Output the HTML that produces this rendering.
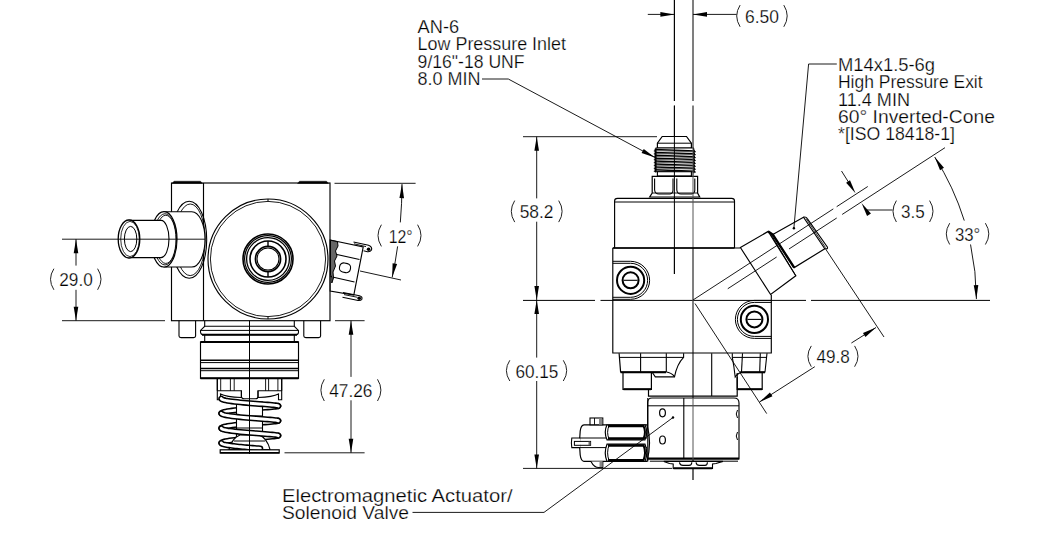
<!DOCTYPE html>
<html><head><meta charset="utf-8"><style>
html,body{margin:0;padding:0;background:#fff;width:1062px;height:540px;overflow:hidden}
svg{display:block}
text{font-family:"Liberation Sans",sans-serif}
</style></head><body>
<svg width="1062" height="540" viewBox="0 0 1062 540" stroke-linecap="butt">
<rect x="171.5" y="183" width="158.5" height="137.7" rx="0" stroke="#000" stroke-width="1.15" fill="none"/>
<line x1="203.5" y1="183" x2="203.5" y2="320.7" stroke="#000" stroke-width="1.15" />
<path d="M172,183.5 L174,181.2 L200.5,181.2 L202.5,183.5 Z" stroke="#000" stroke-width="0.4" fill="#000" />
<path d="M297.5,183.5 L299.5,181.2 L326.5,181.2 L328.5,183.5 Z" stroke="#000" stroke-width="0.4" fill="#000" />
<circle cx="268" cy="259" r="60" stroke="#000" stroke-width="1.15" fill="none"/>
<circle cx="268" cy="259" r="57.6" stroke="#000" stroke-width="0.9" fill="none"/>
<circle cx="268" cy="259" r="25" stroke="#000" stroke-width="1.6" fill="none"/>
<circle cx="268" cy="259" r="23.4" stroke="#000" stroke-width="1.2" fill="none"/>
<circle cx="268" cy="259" r="21.4" stroke="#000" stroke-width="1.3" fill="none"/>
<circle cx="268" cy="259" r="18" stroke="#000" stroke-width="1.6" fill="none"/>
<circle cx="268" cy="259" r="12.6" stroke="#000" stroke-width="1.6" fill="none"/>
<circle cx="268" cy="259" r="11" stroke="#000" stroke-width="1.1" fill="none"/>
<line x1="268" y1="241" x2="268" y2="246.4" stroke="#000" stroke-width="1.4" />
<line x1="268" y1="271.6" x2="268" y2="277" stroke="#000" stroke-width="1.4" />
<line x1="268" y1="199" x2="268" y2="201.4" stroke="#000" stroke-width="1.0" />
<line x1="268" y1="316.6" x2="268" y2="319" stroke="#000" stroke-width="1.0" />
<ellipse cx="189.2" cy="239.8" rx="17.5" ry="38.5" stroke="#000" stroke-width="1.1" fill="none"/>
<ellipse cx="190.2" cy="239.8" rx="15" ry="35.8" stroke="#000" stroke-width="0.9" fill="none"/>
<path d="M164,211.7 L191.7,211.7 A13.3,27.65 0 0 1 191.7,267 L164,267 Z" stroke="#000" stroke-width="1.1" fill="#fff" />
<ellipse cx="164" cy="239.35" rx="13" ry="27.65" stroke="#000" stroke-width="1.2" fill="#fff"/>
<ellipse cx="165" cy="239.35" rx="11.4" ry="25.6" stroke="#000" stroke-width="0.9" fill="none"/>
<ellipse cx="165.8" cy="239.35" rx="10.2" ry="24.1" stroke="#000" stroke-width="0.9" fill="none"/>
<path d="M129,220.4 L161,220.4 A8,18.6 0 0 1 161,257.6 L129,257.6 Z" stroke="#000" stroke-width="1.1" fill="#fff" />
<ellipse cx="129" cy="239" rx="10.8" ry="19" stroke="#000" stroke-width="1.3" fill="#fff"/>
<ellipse cx="130.6" cy="239" rx="6.2" ry="12.6" stroke="#000" stroke-width="1.0" fill="none"/>
<ellipse cx="130" cy="239" rx="9.3" ry="17.6" stroke="#000" stroke-width="0.8" fill="none"/>
<line x1="62" y1="239.2" x2="205" y2="239.2" stroke="#000" stroke-width="0.9" />
<path d="M330.2,240 L363.2,247 L353.8,295 L330.2,291 Z" stroke="#000" stroke-width="1.15" fill="#fff" />
<path d="M353.5,242 L368.5,245.3 Q372.5,246.8 371.5,250 Q370,252.3 366.5,251.5 L363.5,250.8" stroke="#000" stroke-width="1.1" fill="none" />
<line x1="354" y1="243.8" x2="366" y2="246.6" stroke="#000" stroke-width="0.9" />
<circle cx="368.6" cy="249.2" r="1.8" fill="#000"/>
<path d="M343,292.5 L359.5,295.8 Q362.8,296.8 361.8,299.3 Q360.5,301 357,300.3 L342.5,297.3" stroke="#000" stroke-width="1.1" fill="none" />
<line x1="344" y1="294.6" x2="357.5" y2="297.3" stroke="#000" stroke-width="0.9" />
<circle cx="359.2" cy="298.2" r="1.8" fill="#000"/>
<line x1="330.2" y1="253" x2="359.5" y2="259.5" stroke="#000" stroke-width="1.1" />
<line x1="330.2" y1="276.5" x2="354.5" y2="282" stroke="#000" stroke-width="1.1" />
<rect x="-5.5" y="-4.6" width="11" height="9.2" rx="4" transform="translate(345,267.8) rotate(12)" stroke="#000" stroke-width="1.1" fill="none"/>
<path d="M330.5,240.2 L337.5,241.8 L338,246 L335.5,251 L337,256 L334.5,261 L335.5,266 L333,272 L333.5,278 L331.8,283 L331.8,277 L330.5,275 Z" stroke="#000" stroke-width="1.0" fill="#666" />
<path d="M179,320.7 L179,336 Q179,337.6 181,337.6 L193.6,337.6 Q195.6,337.6 195.6,336 L195.6,320.7" stroke="#000" stroke-width="1.1" fill="none" />
<path d="M303.8,320.7 L303.8,336 Q303.8,337.6 305.8,337.6 L318.6,337.6 Q320.6,337.6 320.6,336 L320.6,320.7" stroke="#000" stroke-width="1.1" fill="none" />
<line x1="204.7" y1="320.7" x2="204.7" y2="326.3" stroke="#000" stroke-width="1.1" />
<line x1="294.3" y1="320.7" x2="294.3" y2="326.3" stroke="#000" stroke-width="1.1" />
<path d="M204.7,326.3 L294.3,326.3 L298.4,330.4 Q299,334.7 296,334.7 L203,334.7 Q200.3,334.7 200.5,330.4 Z" stroke="#000" stroke-width="1.1" fill="none" />
<line x1="200.8" y1="330.4" x2="298.4" y2="330.4" stroke="#000" stroke-width="1.0" />
<line x1="202" y1="334.7" x2="297" y2="334.7" stroke="#000" stroke-width="2.0" />
<line x1="204.7" y1="334.7" x2="204.7" y2="342" stroke="#000" stroke-width="1.1" />
<line x1="294.3" y1="334.7" x2="294.3" y2="342" stroke="#000" stroke-width="1.1" />
<rect x="200.5" y="342" width="98" height="36.3" rx="0" stroke="#000" stroke-width="1.15" fill="none"/>
<line x1="200.5" y1="342" x2="298.5" y2="342" stroke="#000" stroke-width="2.0" />
<line x1="200.5" y1="360.2" x2="298.5" y2="360.2" stroke="#000" stroke-width="1.6" />
<line x1="200.5" y1="362.6" x2="298.5" y2="362.6" stroke="#000" stroke-width="1.0" />
<line x1="200.5" y1="368.5" x2="298.5" y2="368.5" stroke="#000" stroke-width="1.6" />
<line x1="200.5" y1="370.7" x2="298.5" y2="370.7" stroke="#000" stroke-width="1.0" />
<line x1="200.5" y1="378.3" x2="298.5" y2="378.3" stroke="#000" stroke-width="2.0" />
<line x1="249.5" y1="320.7" x2="249.5" y2="454" stroke="#000" stroke-width="1.0" />
<path d="M278.3,406 L278.12,406.16 L277.59,406.33 L276.7,406.5 L275.48,406.67 L273.93,406.84 L272.08,407.02 L269.95,407.21 L267.57,407.41 L264.96,407.62 L262.17,407.83 L259.21,408.06 L256.14,408.29 L252.99,408.54 L249.8,408.8 L246.61,409.07 L243.46,409.35 L240.39,409.64 L237.43,409.95 L234.64,410.26 L232.03,410.58 L229.65,410.91 L227.52,411.25 L225.67,411.6 L224.12,411.95 L222.9,412.31 L222.01,412.67 L221.48,413.03 L221.3,413.4" stroke="#000" stroke-width="6.0" fill="none" stroke-linecap="round" stroke-linejoin="round"/>
<path d="M278.3,406 L278.12,406.16 L277.59,406.33 L276.7,406.5 L275.48,406.67 L273.93,406.84 L272.08,407.02 L269.95,407.21 L267.57,407.41 L264.96,407.62 L262.17,407.83 L259.21,408.06 L256.14,408.29 L252.99,408.54 L249.8,408.8 L246.61,409.07 L243.46,409.35 L240.39,409.64 L237.43,409.95 L234.64,410.26 L232.03,410.58 L229.65,410.91 L227.52,411.25 L225.67,411.6 L224.12,411.95 L222.9,412.31 L222.01,412.67 L221.48,413.03 L221.3,413.4" stroke="#fff" stroke-width="2.9" fill="none" stroke-linecap="round" stroke-linejoin="round"/>
<path d="M278.3,420.8 L278.12,420.96 L277.59,421.13 L276.7,421.3 L275.48,421.47 L273.93,421.64 L272.08,421.82 L269.95,422.01 L267.57,422.21 L264.96,422.42 L262.17,422.63 L259.21,422.86 L256.14,423.09 L252.99,423.34 L249.8,423.6 L246.61,423.87 L243.46,424.15 L240.39,424.44 L237.43,424.75 L234.64,425.06 L232.03,425.38 L229.65,425.71 L227.52,426.05 L225.67,426.4 L224.12,426.75 L222.9,427.11 L222.01,427.47 L221.48,427.83 L221.3,428.2" stroke="#000" stroke-width="6.0" fill="none" stroke-linecap="round" stroke-linejoin="round"/>
<path d="M278.3,420.8 L278.12,420.96 L277.59,421.13 L276.7,421.3 L275.48,421.47 L273.93,421.64 L272.08,421.82 L269.95,422.01 L267.57,422.21 L264.96,422.42 L262.17,422.63 L259.21,422.86 L256.14,423.09 L252.99,423.34 L249.8,423.6 L246.61,423.87 L243.46,424.15 L240.39,424.44 L237.43,424.75 L234.64,425.06 L232.03,425.38 L229.65,425.71 L227.52,426.05 L225.67,426.4 L224.12,426.75 L222.9,427.11 L222.01,427.47 L221.48,427.83 L221.3,428.2" stroke="#fff" stroke-width="2.9" fill="none" stroke-linecap="round" stroke-linejoin="round"/>
<path d="M278.3,435.6 L278.12,435.76 L277.59,435.93 L276.7,436.1 L275.48,436.27 L273.93,436.44 L272.08,436.62 L269.95,436.81 L267.57,437.01 L264.96,437.22 L262.17,437.43 L259.21,437.66 L256.14,437.89 L252.99,438.14 L249.8,438.4 L246.61,438.67 L243.46,438.95 L240.39,439.24 L237.43,439.55 L234.64,439.86 L232.03,440.18 L229.65,440.51 L227.52,440.85 L225.67,441.2 L224.12,441.55 L222.9,441.91 L222.01,442.27 L221.48,442.63 L221.3,443" stroke="#000" stroke-width="6.0" fill="none" stroke-linecap="round" stroke-linejoin="round"/>
<path d="M278.3,435.6 L278.12,435.76 L277.59,435.93 L276.7,436.1 L275.48,436.27 L273.93,436.44 L272.08,436.62 L269.95,436.81 L267.57,437.01 L264.96,437.22 L262.17,437.43 L259.21,437.66 L256.14,437.89 L252.99,438.14 L249.8,438.4 L246.61,438.67 L243.46,438.95 L240.39,439.24 L237.43,439.55 L234.64,439.86 L232.03,440.18 L229.65,440.51 L227.52,440.85 L225.67,441.2 L224.12,441.55 L222.9,441.91 L222.01,442.27 L221.48,442.63 L221.3,443" stroke="#fff" stroke-width="2.9" fill="none" stroke-linecap="round" stroke-linejoin="round"/>
<path d="M217.3,378.5 L217.3,399.7 L220.5,399.7 L220.5,394 Q226,397 241.4,397.5 L241.4,390.8 L217.3,390.8 Z" stroke="#000" stroke-width="1.1" fill="#fff" />
<path d="M281.7,378.5 L281.7,399.7 L278.5,399.7 L278.5,394 Q273,397 258,397.5 L258,390.8 L281.7,390.8 Z" stroke="#000" stroke-width="1.1" fill="#fff" />
<path d="M217.3,378.5 L217.3,390.8 M281.7,378.5 L281.7,390.8" stroke="#000" stroke-width="1.1" fill="none" />
<line x1="220.7" y1="378.5" x2="220.7" y2="390.8" stroke="#000" stroke-width="0.9" />
<line x1="230.4" y1="378.5" x2="230.4" y2="390.8" stroke="#000" stroke-width="0.9" />
<line x1="234.2" y1="378.5" x2="234.2" y2="390.8" stroke="#000" stroke-width="0.9" />
<line x1="265.6" y1="378.5" x2="265.6" y2="390.8" stroke="#000" stroke-width="0.9" />
<line x1="268.6" y1="378.5" x2="268.6" y2="390.8" stroke="#000" stroke-width="0.9" />
<line x1="277.9" y1="378.5" x2="277.9" y2="390.8" stroke="#000" stroke-width="0.9" />
<path d="M241.4,390.8 L241.4,396.5 Q241.6,398.8 244,398.8 L255.5,398.8 Q258,398.8 258,396.5 L258,390.8" stroke="#000" stroke-width="1.1" fill="none" />
<rect x="236.5" y="402" width="26" height="44" rx="0" stroke="#000" stroke-width="1.1" fill="#fff"/>
<line x1="236.5" y1="416" x2="262.5" y2="416" stroke="#000" stroke-width="1.0" />
<line x1="236.5" y1="428" x2="262.5" y2="428" stroke="#000" stroke-width="1.0" />
<path d="M229,449.5 Q232,438 240,435 L259,435 Q267,438 270,449.5 Z" stroke="#000" stroke-width="1.1" fill="#fff" />
<line x1="234" y1="441" x2="265" y2="441" stroke="#000" stroke-width="1.0" />
<path d="M221.3,398.6 L221.48,398.97 L222.01,399.33 L222.9,399.69 L224.12,400.05 L225.67,400.4 L227.52,400.75 L229.65,401.09 L232.03,401.42 L234.64,401.74 L237.43,402.05 L240.39,402.36 L243.46,402.65 L246.61,402.93 L249.8,403.2 L252.99,403.46 L256.14,403.71 L259.21,403.94 L262.17,404.17 L264.96,404.38 L267.57,404.59 L269.95,404.79 L272.08,404.98 L273.93,405.16 L275.48,405.33 L276.7,405.5 L277.59,405.67 L278.12,405.84 L278.3,406" stroke="#000" stroke-width="6.0" fill="none" stroke-linecap="round" stroke-linejoin="round"/>
<path d="M221.3,398.6 L221.48,398.97 L222.01,399.33 L222.9,399.69 L224.12,400.05 L225.67,400.4 L227.52,400.75 L229.65,401.09 L232.03,401.42 L234.64,401.74 L237.43,402.05 L240.39,402.36 L243.46,402.65 L246.61,402.93 L249.8,403.2 L252.99,403.46 L256.14,403.71 L259.21,403.94 L262.17,404.17 L264.96,404.38 L267.57,404.59 L269.95,404.79 L272.08,404.98 L273.93,405.16 L275.48,405.33 L276.7,405.5 L277.59,405.67 L278.12,405.84 L278.3,406" stroke="#fff" stroke-width="2.9" fill="none" stroke-linecap="round" stroke-linejoin="round"/>
<path d="M221.3,413.4 L221.48,413.77 L222.01,414.13 L222.9,414.49 L224.12,414.85 L225.67,415.2 L227.52,415.55 L229.65,415.89 L232.03,416.22 L234.64,416.54 L237.43,416.85 L240.39,417.16 L243.46,417.45 L246.61,417.73 L249.8,418 L252.99,418.26 L256.14,418.51 L259.21,418.74 L262.17,418.97 L264.96,419.18 L267.57,419.39 L269.95,419.59 L272.08,419.78 L273.93,419.96 L275.48,420.13 L276.7,420.3 L277.59,420.47 L278.12,420.64 L278.3,420.8" stroke="#000" stroke-width="6.0" fill="none" stroke-linecap="round" stroke-linejoin="round"/>
<path d="M221.3,413.4 L221.48,413.77 L222.01,414.13 L222.9,414.49 L224.12,414.85 L225.67,415.2 L227.52,415.55 L229.65,415.89 L232.03,416.22 L234.64,416.54 L237.43,416.85 L240.39,417.16 L243.46,417.45 L246.61,417.73 L249.8,418 L252.99,418.26 L256.14,418.51 L259.21,418.74 L262.17,418.97 L264.96,419.18 L267.57,419.39 L269.95,419.59 L272.08,419.78 L273.93,419.96 L275.48,420.13 L276.7,420.3 L277.59,420.47 L278.12,420.64 L278.3,420.8" stroke="#fff" stroke-width="2.9" fill="none" stroke-linecap="round" stroke-linejoin="round"/>
<path d="M221.3,428.2 L221.48,428.57 L222.01,428.93 L222.9,429.29 L224.12,429.65 L225.67,430 L227.52,430.35 L229.65,430.69 L232.03,431.02 L234.64,431.34 L237.43,431.65 L240.39,431.96 L243.46,432.25 L246.61,432.53 L249.8,432.8 L252.99,433.06 L256.14,433.31 L259.21,433.54 L262.17,433.77 L264.96,433.98 L267.57,434.19 L269.95,434.39 L272.08,434.58 L273.93,434.76 L275.48,434.93 L276.7,435.1 L277.59,435.27 L278.12,435.44 L278.3,435.6" stroke="#000" stroke-width="6.0" fill="none" stroke-linecap="round" stroke-linejoin="round"/>
<path d="M221.3,428.2 L221.48,428.57 L222.01,428.93 L222.9,429.29 L224.12,429.65 L225.67,430 L227.52,430.35 L229.65,430.69 L232.03,431.02 L234.64,431.34 L237.43,431.65 L240.39,431.96 L243.46,432.25 L246.61,432.53 L249.8,432.8 L252.99,433.06 L256.14,433.31 L259.21,433.54 L262.17,433.77 L264.96,433.98 L267.57,434.19 L269.95,434.39 L272.08,434.58 L273.93,434.76 L275.48,434.93 L276.7,435.1 L277.59,435.27 L278.12,435.44 L278.3,435.6" stroke="#fff" stroke-width="2.9" fill="none" stroke-linecap="round" stroke-linejoin="round"/>
<path d="M221.3,443 L221.37,443.23 L221.58,443.45 L221.92,443.68 L222.4,443.9 L223.01,444.13 L223.75,444.35 L224.61,444.57 L225.6,444.79 L226.71,445 L227.92,445.22 L229.24,445.43 L230.67,445.63 L232.18,445.84 L233.78,446.04 L235.46,446.24 L237.2,446.43 L239.01,446.62 L240.87,446.8 L242.77,446.99 L244.71,447.16 L246.67,447.34 L248.65,447.5 L250.63,447.67 L252.61,447.83 L254.57,447.98 L256.52,448.13 L258.42,448.28 L260.29,448.42" stroke="#000" stroke-width="6.0" fill="none" stroke-linecap="round" stroke-linejoin="round"/>
<path d="M221.3,443 L221.37,443.23 L221.58,443.45 L221.92,443.68 L222.4,443.9 L223.01,444.13 L223.75,444.35 L224.61,444.57 L225.6,444.79 L226.71,445 L227.92,445.22 L229.24,445.43 L230.67,445.63 L232.18,445.84 L233.78,446.04 L235.46,446.24 L237.2,446.43 L239.01,446.62 L240.87,446.8 L242.77,446.99 L244.71,447.16 L246.67,447.34 L248.65,447.5 L250.63,447.67 L252.61,447.83 L254.57,447.98 L256.52,448.13 L258.42,448.28 L260.29,448.42" stroke="#fff" stroke-width="2.9" fill="none" stroke-linecap="round" stroke-linejoin="round"/>
<rect x="220.2" y="449.8" width="59" height="3.2" rx="0" stroke="#000" stroke-width="1.2" fill="#fff"/>
<line x1="220.2" y1="452.8" x2="279.2" y2="452.8" stroke="#000" stroke-width="1.6" />
<line x1="249.5" y1="378" x2="249.5" y2="454" stroke="#000" stroke-width="1.0" />
<line x1="674.4" y1="0" x2="674.4" y2="101" stroke="#000" stroke-width="1.0" />
<line x1="674.4" y1="105.6" x2="674.4" y2="274" stroke="#000" stroke-width="1.0" />
<line x1="693" y1="0" x2="693" y2="101" stroke="#555" stroke-width="1.0" />
<line x1="693" y1="105.6" x2="693" y2="480" stroke="#555" stroke-width="1.0" />
<line x1="523" y1="300.4" x2="595" y2="300.4" stroke="#000" stroke-width="1.0" />
<line x1="600.5" y1="300.4" x2="806" y2="300.4" stroke="#000" stroke-width="1.0" />
<line x1="811" y1="300.4" x2="990" y2="300.4" stroke="#000" stroke-width="1.0" />
<path d="M662.2,136.5 L686.5,136.5 L691.4,143.2 L691.4,148 L657.4,148 L657.4,143.2 Z" stroke="#000" stroke-width="1.2" fill="#fff" />
<line x1="657.4" y1="143.2" x2="691.4" y2="143.2" stroke="#000" stroke-width="1.0" />
<rect x="656" y="148" width="37.5" height="23.7" rx="0" stroke="#000" stroke-width="1.0" fill="#fff"/>
<path d="M654.6,149.5 L694.9,150.9" stroke="#000" stroke-width="1.5" fill="none" />
<path d="M655.6,150.7 L693.9,151.7" stroke="#444" stroke-width="0.8" fill="none" />
<path d="M654.6,152.4 L694.9,153.8" stroke="#000" stroke-width="1.5" fill="none" />
<path d="M655.6,153.6 L693.9,154.6" stroke="#444" stroke-width="0.8" fill="none" />
<path d="M654.6,155.3 L694.9,156.7" stroke="#000" stroke-width="1.5" fill="none" />
<path d="M655.6,156.5 L693.9,157.5" stroke="#444" stroke-width="0.8" fill="none" />
<path d="M654.6,158.2 L694.9,159.6" stroke="#000" stroke-width="1.5" fill="none" />
<path d="M655.6,159.4 L693.9,160.4" stroke="#444" stroke-width="0.8" fill="none" />
<path d="M654.6,161.1 L694.9,162.5" stroke="#000" stroke-width="1.5" fill="none" />
<path d="M655.6,162.3 L693.9,163.3" stroke="#444" stroke-width="0.8" fill="none" />
<path d="M654.6,164 L694.9,165.4" stroke="#000" stroke-width="1.5" fill="none" />
<path d="M655.6,165.2 L693.9,166.2" stroke="#444" stroke-width="0.8" fill="none" />
<path d="M654.6,166.9 L694.9,168.3" stroke="#000" stroke-width="1.5" fill="none" />
<path d="M655.6,168.1 L693.9,169.1" stroke="#444" stroke-width="0.8" fill="none" />
<path d="M654.6,169.8 L694.9,171.2" stroke="#000" stroke-width="1.5" fill="none" />
<path d="M655.6,171 L693.9,172" stroke="#444" stroke-width="0.8" fill="none" />
<path d="M655.6,148.5 L655.6,171.5 M693.9,148.5 L693.9,171.5" stroke="#000" stroke-width="1.0" fill="none" />
<path d="M656,149.8 L653.8,151 L656,152 Z M693.5,150.6 L695.8,151.8 L693.5,152.8 Z" fill="#000" stroke="#000" stroke-width="0.5"/>
<path d="M656,152.7 L653.8,153.9 L656,154.9 Z M693.5,153.5 L695.8,154.7 L693.5,155.7 Z" fill="#000" stroke="#000" stroke-width="0.5"/>
<path d="M656,155.6 L653.8,156.8 L656,157.8 Z M693.5,156.4 L695.8,157.6 L693.5,158.6 Z" fill="#000" stroke="#000" stroke-width="0.5"/>
<path d="M656,158.5 L653.8,159.7 L656,160.7 Z M693.5,159.3 L695.8,160.5 L693.5,161.5 Z" fill="#000" stroke="#000" stroke-width="0.5"/>
<path d="M656,161.4 L653.8,162.6 L656,163.6 Z M693.5,162.2 L695.8,163.4 L693.5,164.4 Z" fill="#000" stroke="#000" stroke-width="0.5"/>
<path d="M656,164.3 L653.8,165.5 L656,166.5 Z M693.5,165.1 L695.8,166.3 L693.5,167.3 Z" fill="#000" stroke="#000" stroke-width="0.5"/>
<path d="M656,167.2 L653.8,168.4 L656,169.4 Z M693.5,168 L695.8,169.2 L693.5,170.2 Z" fill="#000" stroke="#000" stroke-width="0.5"/>
<path d="M656,170.1 L653.8,171.3 L656,172.3 Z M693.5,170.9 L695.8,172.1 L693.5,173.1 Z" fill="#000" stroke="#000" stroke-width="0.5"/>
<rect x="657.4" y="171.7" width="34" height="4.3" rx="0" stroke="#000" stroke-width="1.1" fill="#fff"/>
<path d="M652.2,176.3 L697.6,176.3 L697.6,193 L699.7,197 L649.7,197 L652.2,193 Z" stroke="#000" stroke-width="1.2" fill="#fff" />
<path d="M654.6,178.5 L654.6,190 Q655,194 659,194 L670,194 Q673,193.5 673,190 L673,178.5" stroke="#000" stroke-width="1.1" fill="none" />
<path d="M676.8,178.5 L676.8,190 Q677.2,194 681,194 L691.5,194 Q694.8,193.5 694.8,190 L694.8,178.5" stroke="#000" stroke-width="1.1" fill="none" />
<line x1="652.2" y1="193" x2="697.6" y2="193" stroke="#000" stroke-width="0.9" />
<path d="M614.6,248 L614.6,201 Q614.6,198.3 617.5,198.3 L731.6,198.3 Q734.5,198.3 734.5,201 L734.5,248" stroke="#000" stroke-width="1.15" fill="#fff" />
<line x1="614.6" y1="202" x2="734.5" y2="202" stroke="#000" stroke-width="1.0" />
<line x1="674.4" y1="0" x2="674.4" y2="101" stroke="#000" stroke-width="1.0" />
<line x1="674.4" y1="105.6" x2="674.4" y2="274" stroke="#000" stroke-width="1.0" />
<line x1="693" y1="0" x2="693" y2="101" stroke="#555" stroke-width="1.0" />
<line x1="693" y1="105.6" x2="693" y2="480" stroke="#555" stroke-width="1.0" />
<path d="M612.8,248 L740.4,248 M612.8,248 L612.8,353 L771.3,353 L771.3,294.8" stroke="#000" stroke-width="1.15" fill="none" />
<line x1="612.8" y1="248" x2="734.5" y2="248" stroke="#000" stroke-width="1.5" />
<path d="M612.8,261.3 L630.6,261.3 A19,19 0 0 1 630.6,299.3 L612.8,299.3" stroke="#000" stroke-width="1.0" fill="none" />
<path d="M612.8,263.3 L630.6,263.3 A17,17 0 0 1 630.6,297.3 L612.8,297.3" stroke="#000" stroke-width="1.0" fill="none" />
<circle cx="630.6" cy="280.3" r="13.6" stroke="#000" stroke-width="2.0" fill="none"/>
<circle cx="630.6" cy="280.3" r="8" stroke="#000" stroke-width="2.0" fill="none"/>
<line x1="623.6" y1="280.3" x2="637.6" y2="280.3" stroke="#000" stroke-width="1.1" />
<path d="M771.3,300.4 L754.4,300.4 A19,19 0 0 0 754.4,338.4 L771.3,338.4" stroke="#000" stroke-width="1.0" fill="none" />
<path d="M771.3,302.4 L754.4,302.4 A17,17 0 0 0 754.4,336.4 L771.3,336.4" stroke="#000" stroke-width="1.0" fill="none" />
<circle cx="754.4" cy="319.4" r="13.6" stroke="#000" stroke-width="2.0" fill="none"/>
<circle cx="754.4" cy="319.4" r="8" stroke="#000" stroke-width="2.0" fill="none"/>
<line x1="747.4" y1="319.4" x2="761.4" y2="319.4" stroke="#000" stroke-width="1.1" />
<path d="M740.4,247.5 L768.2,231.4 L795.8,275.8 L770.6,294.5 Z" stroke="#000" stroke-width="1.15" fill="#fff" />
<path d="M772.8,234.6 L803.5,217.2 L824.8,248.8 L794.2,267.6 Z" stroke="#000" stroke-width="1.15" fill="#fff" />
<path d="M803.5,217.2 Q806,216.5 807.3,218.6 L827.5,247.3 Q828,249.3 824.8,248.8" stroke="#000" stroke-width="1.1" fill="none" />
<line x1="806.2" y1="218.7" x2="825.5" y2="247.6" stroke="#000" stroke-width="0.8" />
<path d="M768.2,231.4 L772.8,234.6 L794.2,267.6" stroke="#000" stroke-width="2.4" fill="none" />
<line x1="770.2" y1="233" x2="795.8" y2="275.8" stroke="#000" stroke-width="1.0" />
<line x1="693" y1="300" x2="833.31" y2="208.88" stroke="#000" stroke-width="0.9" />
<line x1="836.66" y1="206.7" x2="867.78" y2="186.5" stroke="#000" stroke-width="0.9" />
<line x1="727.78" y1="288.74" x2="776.67" y2="256.99" stroke="#000" stroke-width="0.9" />
<line x1="789" y1="248.98" x2="836.72" y2="217.99" stroke="#000" stroke-width="0.9" />
<line x1="842.17" y1="214.45" x2="944.99" y2="147.68" stroke="#000" stroke-width="0.9" />
<line x1="695" y1="303.5" x2="766.7" y2="413.6" stroke="#000" stroke-width="0.9" />
<line x1="826" y1="249.6" x2="884" y2="337" stroke="#000" stroke-width="0.9" />
<path d="M648.5,389.4 L648.5,396.1 L737.2,396.1 L737.2,377" stroke="#000" stroke-width="1.2" fill="none" />
<line x1="711.7" y1="353.3" x2="711.7" y2="396.1" stroke="#000" stroke-width="1.1" />
<path d="M619.1,353.3 L620.6,372 L666,372" stroke="#000" stroke-width="1.2" fill="none" />
<line x1="619.3" y1="357.4" x2="683.6" y2="357.4" stroke="#000" stroke-width="1.0" />
<path d="M683.6,353.3 L683.6,357.4 Q677,364 674.5,376.9 L655.3,376.9 L652.5,372.8" stroke="#000" stroke-width="1.1" fill="none" />
<path d="M666.3,372 Q671,372.5 674.5,376.5" stroke="#000" stroke-width="1.2" fill="none" />
<line x1="640.6" y1="353.3" x2="640.6" y2="373" stroke="#000" stroke-width="1.1" />
<line x1="666.3" y1="353.3" x2="666.3" y2="372" stroke="#000" stroke-width="1.1" />
<line x1="620.6" y1="372.3" x2="666" y2="372.3" stroke="#000" stroke-width="2.0" />
<path d="M623,373 L623,389.4 L651.4,389.4 L651.4,373" stroke="#000" stroke-width="1.2" fill="none" />
<line x1="623.5" y1="389.2" x2="651" y2="389.2" stroke="#000" stroke-width="2.0" />
<path d="M732.3,353.3 L732.3,357.4 Q734,366 735.2,377 L737.2,374.5 Q740,372 745,372 L765,372 L767,353.3" stroke="#000" stroke-width="1.1" fill="none" />
<line x1="732.3" y1="357.4" x2="767" y2="357.4" stroke="#000" stroke-width="1.0" />
<line x1="742.5" y1="353.3" x2="741.5" y2="372" stroke="#000" stroke-width="1.1" />
<line x1="760.3" y1="353.3" x2="759.7" y2="372" stroke="#000" stroke-width="1.1" />
<line x1="740" y1="372.3" x2="765" y2="372.3" stroke="#000" stroke-width="2.0" />
<path d="M737.2,373 L737.2,389.4 L762.2,389.4 L762.2,373" stroke="#000" stroke-width="1.2" fill="none" />
<line x1="737.5" y1="389.2" x2="762" y2="389.2" stroke="#000" stroke-width="2.0" />
<path d="M647.6,459 L647.6,403 Q647.6,398 652,398 L734,398 Q739,398 739,403 L739,459 Z" stroke="#000" stroke-width="1.15" fill="#fff" />
<line x1="647.6" y1="405.8" x2="739" y2="405.8" stroke="#000" stroke-width="1.0" />
<line x1="683.8" y1="398" x2="683.8" y2="458.4" stroke="#000" stroke-width="1.1" />
<line x1="647.6" y1="458.4" x2="739" y2="458.4" stroke="#000" stroke-width="2.0" />
<line x1="693" y1="398" x2="693" y2="480" stroke="#555" stroke-width="1.0" />
<ellipse cx="662.5" cy="412.8" rx="2.9" ry="4" stroke="#000" stroke-width="1.2" fill="none"/>
<ellipse cx="662.5" cy="440" rx="2.9" ry="4" stroke="#000" stroke-width="1.2" fill="none"/>
<path d="M737.5,410 Q735,414 737.5,418 M737.5,432 Q735,436 737.5,440" stroke="#000" stroke-width="1.0" fill="none" />
<path d="M663.8,461.4 L722.9,461.4 L716,463.5 L712.5,464 L712.5,468.5 L673.2,468.5 L673.2,464 L669.5,463.5 Z" stroke="#000" stroke-width="1.1" fill="#fff" />
<line x1="673.5" y1="468.2" x2="712.2" y2="468.2" stroke="#000" stroke-width="2.0" />
<path d="M679.4,462.3 Q680,465.4 683,465.4 L689,465.4 Q691.8,465.4 691.8,462.3" stroke="#000" stroke-width="1.1" fill="none" />
<path d="M696,462.3 Q696.5,465.4 699.5,465.4 L705,465.4 Q707.4,465.4 707.4,462.3" stroke="#000" stroke-width="1.1" fill="none" />
<line x1="649.8" y1="461.2" x2="738" y2="461.2" stroke="#000" stroke-width="1.0" />
<path d="M584,424.8 L647,424.8 Q652,442 647,461.4 L584,461.4 Q581,461 580.2,455 Q578.6,443 580.2,431 Q581,425 584,424.8 Z" stroke="#000" stroke-width="1.2" fill="#fff" />
<rect x="590" y="418" width="12.8" height="6.8" rx="0" stroke="#000" stroke-width="1.1" fill="#fff"/>
<line x1="594.5" y1="418" x2="594.5" y2="424.8" stroke="#000" stroke-width="0.9" />
<rect x="599" y="418.6" width="3.2" height="6" fill="#888"/>
<path d="M591,461.4 Q594,467.5 599,467.5 L602.8,467.5 L602.8,461.4" stroke="#000" stroke-width="1.1" fill="#fff" />
<rect x="599.5" y="461.6" width="3" height="5.6" fill="#888"/>
<path d="M580,438 L571.8,438 Q571,442.8 571.8,447.6 L580,447.6" stroke="#000" stroke-width="1.1" fill="#fff" />
<line x1="579.5" y1="438" x2="647" y2="438" stroke="#000" stroke-width="1.0" />
<line x1="579.5" y1="447.6" x2="647" y2="447.6" stroke="#000" stroke-width="1.0" />
<rect x="574.4" y="441.4" width="16.2" height="3.9" rx="0" stroke="#000" stroke-width="1.0" fill="none"/>
<rect x="588.5" y="441.6" width="2" height="3.5" fill="#666"/>
<path d="M607,424.8 L645,424.8 Q648.5,432.3 645,439.8 L607,439.8 Q603.5,432.3 607,424.8 Z" stroke="#000" stroke-width="1.2" fill="#fff" />
<line x1="608" y1="426.1" x2="644" y2="426.1" stroke="#000" stroke-width="2.4" />
<line x1="608" y1="438.5" x2="644" y2="438.5" stroke="#000" stroke-width="2.4" />
<path d="M609.2,425.3 Q606,432.3 609.2,439.3" stroke="#000" stroke-width="1.0" fill="none" />
<path d="M643.5,425.8 Q646.5,432.3 643.5,438.8" stroke="#000" stroke-width="2.0" fill="none" />
<path d="M607,444.2 L645,444.2 Q648.5,452.79999999999995 645,461.4 L607,461.4 Q603.5,452.79999999999995 607,444.2 Z" stroke="#000" stroke-width="1.2" fill="#fff" />
<line x1="608" y1="445.5" x2="644" y2="445.5" stroke="#000" stroke-width="2.4" />
<line x1="608" y1="460.1" x2="644" y2="460.1" stroke="#000" stroke-width="2.4" />
<path d="M609.2,444.7 Q606,452.79999999999995 609.2,460.9" stroke="#000" stroke-width="1.0" fill="none" />
<path d="M643.5,445.2 Q646.5,452.79999999999995 643.5,460.4" stroke="#000" stroke-width="2.0" fill="none" />
<line x1="647.8" y1="398" x2="647.8" y2="461.4" stroke="#000" stroke-width="1.15" />
<line x1="62" y1="320.7" x2="165" y2="320.7" stroke="#000" stroke-width="0.9" />
<line x1="76" y1="239.2" x2="76" y2="265.6" stroke="#000" stroke-width="0.9" />
<line x1="76" y1="289.8" x2="76" y2="320.7" stroke="#000" stroke-width="0.9" />
<path d="M76,239.2 L78.3,253.2 L73.7,253.2 Z" fill="#000" stroke="none"/>
<path d="M76,320.7 L73.7,306.7 L78.3,306.7 Z" fill="#000" stroke="none"/>
<text x="76" y="286.4" font-size="18.5" text-anchor="middle" fill="#000" stroke="#fff" stroke-width="0.25" textLength="33.5" lengthAdjust="spacingAndGlyphs">29.0</text>
<path d="M53.9,268.7 Q47.1,279.25 53.9,289.8" stroke="#222" stroke-width="1.0" fill="none" />
<path d="M97.6,268.7 Q104.4,279.25 97.6,289.8" stroke="#222" stroke-width="1.0" fill="none" />
<line x1="334.5" y1="183.3" x2="415.6" y2="183.3" stroke="#000" stroke-width="0.9" />
<line x1="360" y1="271" x2="401" y2="280" stroke="#000" stroke-width="0.9" />
<path d="M402,184.1 A456,456 0 0 1 400.32,222.41" stroke="#000" stroke-width="0.9" fill="none" />
<path d="M397.62,246.37 A456,456 0 0 1 392.2,277.33" stroke="#000" stroke-width="0.9" fill="none" />
<path d="M402,184.1 L404.04,198.14 L399.44,198.05 Z" fill="#000" stroke="none"/>
<path d="M392.2,277.33 L392.6,263.15 L397.12,264.02 Z" fill="#000" stroke="none"/>
<text x="400.7" y="242.5" font-size="18.5" text-anchor="middle" fill="#000" stroke="#fff" stroke-width="0.25" textLength="24" lengthAdjust="spacingAndGlyphs">12°</text>
<path d="M381.4,224.7 Q374.6,235.55 381.4,246.4" stroke="#222" stroke-width="1.0" fill="none" />
<path d="M417.6,224.7 Q424.4,235.55 417.6,246.4" stroke="#222" stroke-width="1.0" fill="none" />
<line x1="335" y1="320.7" x2="364.6" y2="320.7" stroke="#000" stroke-width="0.9" />
<line x1="284.5" y1="452.8" x2="364.6" y2="452.8" stroke="#000" stroke-width="0.9" />
<line x1="351" y1="320.7" x2="351" y2="376.9" stroke="#000" stroke-width="0.9" />
<line x1="351" y1="400.3" x2="351" y2="452.8" stroke="#000" stroke-width="0.9" />
<path d="M351,320.7 L353.3,334.7 L348.7,334.7 Z" fill="#000" stroke="none"/>
<path d="M351,452.8 L348.7,438.8 L353.3,438.8 Z" fill="#000" stroke="none"/>
<text x="350.8" y="397.1" font-size="18.5" text-anchor="middle" fill="#000" stroke="#fff" stroke-width="0.25" textLength="43.2" lengthAdjust="spacingAndGlyphs">47.26</text>
<path d="M324.3,379.3 Q317.5,390.15 324.3,401" stroke="#222" stroke-width="1.0" fill="none" />
<path d="M377.5,379.3 Q384.3,390.15 377.5,401" stroke="#222" stroke-width="1.0" fill="none" />
<line x1="647.8" y1="14.4" x2="674.4" y2="14.4" stroke="#000" stroke-width="0.9" />
<path d="M674.4,14.4 L660.4,16.7 L660.4,12.1 Z" fill="#000" stroke="none"/>
<line x1="693" y1="14.4" x2="736.7" y2="14.4" stroke="#000" stroke-width="0.9" />
<path d="M693,14.4 L707,12.1 L707,16.7 Z" fill="#000" stroke="none"/>
<text x="762" y="22.5" font-size="18.5" text-anchor="middle" fill="#000" stroke="#fff" stroke-width="0.25" textLength="34" lengthAdjust="spacingAndGlyphs">6.50</text>
<path d="M740.1,5.1 Q733.3,15.95 740.1,26.8" stroke="#222" stroke-width="1.0" fill="none" />
<path d="M783.8,5.1 Q790.6,15.95 783.8,26.8" stroke="#222" stroke-width="1.0" fill="none" />
<line x1="523" y1="136.7" x2="657" y2="136.7" stroke="#000" stroke-width="0.9" />
<line x1="536.7" y1="136.7" x2="536.7" y2="198.4" stroke="#000" stroke-width="0.9" />
<line x1="536.7" y1="221.7" x2="536.7" y2="300" stroke="#000" stroke-width="0.9" />
<path d="M536.7,136.7 L539,150.7 L534.4,150.7 Z" fill="#000" stroke="none"/>
<path d="M536.7,300 L534.4,286 L539,286 Z" fill="#000" stroke="none"/>
<text x="536.6" y="218.4" font-size="18.5" text-anchor="middle" fill="#000" stroke="#fff" stroke-width="0.25" textLength="33.8" lengthAdjust="spacingAndGlyphs">58.2</text>
<path d="M514.7,200.6 Q507.9,211.35 514.7,222.1" stroke="#222" stroke-width="1.0" fill="none" />
<path d="M558.7,200.6 Q565.5,211.35 558.7,222.1" stroke="#222" stroke-width="1.0" fill="none" />
<line x1="523" y1="468.4" x2="672" y2="468.4" stroke="#000" stroke-width="0.9" />
<line x1="536.7" y1="300" x2="536.7" y2="357.6" stroke="#000" stroke-width="0.9" />
<line x1="536.7" y1="381" x2="536.7" y2="468.4" stroke="#000" stroke-width="0.9" />
<path d="M536.7,300 L539,314 L534.4,314 Z" fill="#000" stroke="none"/>
<path d="M536.7,468.4 L534.4,454.4 L539,454.4 Z" fill="#000" stroke="none"/>
<text x="536.9" y="377.6" font-size="18.5" text-anchor="middle" fill="#000" stroke="#fff" stroke-width="0.25" textLength="43" lengthAdjust="spacingAndGlyphs">60.15</text>
<path d="M509.8,360.3 Q503,370.65 509.8,381" stroke="#222" stroke-width="1.0" fill="none" />
<path d="M563.3,360.3 Q570.1,370.65 563.3,381" stroke="#222" stroke-width="1.0" fill="none" />
<line x1="759.5" y1="402" x2="814.8" y2="366.7" stroke="#000" stroke-width="0.9" />
<line x1="851.4" y1="343" x2="876" y2="327.5" stroke="#000" stroke-width="0.9" />
<path d="M759.5,402 L769.93,392.38 L772.46,396.22 Z" fill="#000" stroke="none"/>
<path d="M876,327.5 L865.45,336.98 L862.97,333.11 Z" fill="#000" stroke="none"/>
<text x="833.2" y="363.3" font-size="18.5" text-anchor="middle" fill="#000" stroke="#fff" stroke-width="0.25" textLength="33.3" lengthAdjust="spacingAndGlyphs">49.8</text>
<path d="M811.3,345.9 Q804.5,356.3 811.3,366.7" stroke="#222" stroke-width="1.0" fill="none" />
<path d="M854.6,345.9 Q861.4,356.3 854.6,366.7" stroke="#222" stroke-width="1.0" fill="none" />
<path d="M934.74,157.08 A266,266 0 0 1 964.27,220.59" stroke="#000" stroke-width="0.9" fill="none" />
<path d="M970.54,244.47 A266,266 0 0 1 976.4,299.07" stroke="#000" stroke-width="0.9" fill="none" />
<path d="M934.74,157.08 L943.97,167.85 L940.04,170.24 Z" fill="#000" stroke="none"/>
<path d="M976.4,299.07 L973.71,285.14 L978.31,285.01 Z" fill="#000" stroke="none"/>
<text x="967.6" y="241" font-size="18.5" text-anchor="middle" fill="#000" stroke="#fff" stroke-width="0.25" textLength="25.3" lengthAdjust="spacingAndGlyphs">33°</text>
<path d="M949.7,223.2 Q942.9,233.85 949.7,244.5" stroke="#222" stroke-width="1.0" fill="none" />
<path d="M985.4,223.2 Q992.2,233.85 985.4,244.5" stroke="#222" stroke-width="1.0" fill="none" />
<path d="M855.5,193.3 L846.11,182.67 L850,180.22 Z" fill="#000" stroke="none"/>
<line x1="841.5" y1="171" x2="850" y2="184.5" stroke="#000" stroke-width="0.9" />
<path d="M861.5,203 L870.95,213.58 L867.07,216.05 Z" fill="#000" stroke="none"/>
<line x1="866" y1="210" x2="892.6" y2="210" stroke="#000" stroke-width="0.9" />
<text x="912.9" y="218.3" font-size="18.5" text-anchor="middle" fill="#000" stroke="#fff" stroke-width="0.25" textLength="23.7" lengthAdjust="spacingAndGlyphs">3.5</text>
<path d="M896.4,200.6 Q889.6,211.3 896.4,222" stroke="#222" stroke-width="1.0" fill="none" />
<path d="M929.6,200.6 Q936.4,211.3 929.6,222" stroke="#222" stroke-width="1.0" fill="none" />
<line x1="482" y1="79" x2="508.3" y2="79" stroke="#000" stroke-width="0.9" />
<line x1="508.3" y1="79" x2="655" y2="157.5" stroke="#000" stroke-width="0.9" />
<path d="M655,157.5 L641.56,152.94 L643.73,148.88 Z" fill="#000" stroke="none"/>
<text x="417.6" y="32.9" font-size="17.5" text-anchor="start" fill="#000" stroke="#fff" stroke-width="0.25" textLength="41.5" lengthAdjust="spacingAndGlyphs">AN-6</text>
<text x="417.6" y="50.3" font-size="17.5" text-anchor="start" fill="#000" stroke="#fff" stroke-width="0.25" textLength="148.4" lengthAdjust="spacingAndGlyphs">Low Pressure Inlet</text>
<text x="417.6" y="67.6" font-size="17.5" text-anchor="start" fill="#000" stroke="#fff" stroke-width="0.25" textLength="107" lengthAdjust="spacingAndGlyphs">9/16"-18 UNF</text>
<text x="417.6" y="85" font-size="17.5" text-anchor="start" fill="#000" stroke="#fff" stroke-width="0.25" textLength="63" lengthAdjust="spacingAndGlyphs">8.0 MIN</text>
<line x1="808.6" y1="64" x2="836.8" y2="64" stroke="#000" stroke-width="0.9" />
<line x1="808.6" y1="64" x2="793.9" y2="228" stroke="#000" stroke-width="0.9" />
<circle cx="793.9" cy="228.3" r="1.2" fill="#000"/>
<text x="838" y="70.8" font-size="17.5" text-anchor="start" fill="#000" stroke="#fff" stroke-width="0.25" textLength="97" lengthAdjust="spacingAndGlyphs">M14x1.5-6g</text>
<text x="838" y="88.4" font-size="17.5" text-anchor="start" fill="#000" stroke="#fff" stroke-width="0.25" textLength="144.6" lengthAdjust="spacingAndGlyphs">High Pressure Exit</text>
<text x="838" y="105.8" font-size="17.5" text-anchor="start" fill="#000" stroke="#fff" stroke-width="0.25" textLength="72" lengthAdjust="spacingAndGlyphs">11.4 MIN</text>
<text x="838" y="123.4" font-size="17.5" text-anchor="start" fill="#000" stroke="#fff" stroke-width="0.25" textLength="157" lengthAdjust="spacingAndGlyphs">60° Inverted-Cone</text>
<text x="838" y="140.4" font-size="17.5" text-anchor="start" fill="#000" stroke="#fff" stroke-width="0.25" textLength="117" lengthAdjust="spacingAndGlyphs">*[ISO 18418-1]</text>
<line x1="412.5" y1="512.4" x2="544" y2="512.4" stroke="#000" stroke-width="0.9" />
<line x1="544" y1="512.4" x2="673" y2="417.5" stroke="#000" stroke-width="0.9" />
<circle cx="673" cy="417.5" r="1.2" fill="#000"/>
<text x="282" y="501.8" font-size="17.5" text-anchor="start" fill="#000" stroke="#fff" stroke-width="0.25" textLength="230.5" lengthAdjust="spacingAndGlyphs">Electromagnetic Actuator/</text>
<text x="282" y="519.4" font-size="17.5" text-anchor="start" fill="#000" stroke="#fff" stroke-width="0.25" textLength="127" lengthAdjust="spacingAndGlyphs">Solenoid Valve</text>
</svg></body></html>
